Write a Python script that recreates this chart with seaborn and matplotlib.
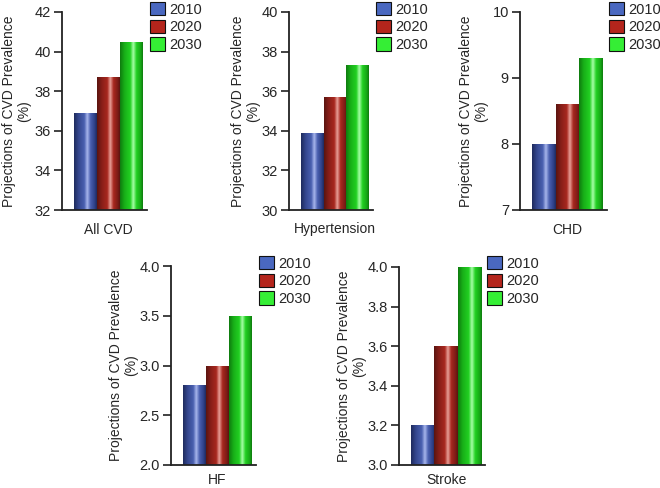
import numpy as np
import pandas as pd
import matplotlib
matplotlib.use("Agg")
import matplotlib.pyplot as plt
import seaborn as sns
from matplotlib.colors import LinearSegmentedColormap
from matplotlib.patches import Patch

# ---- data ----
years = ["2010", "2020", "2030"]
categories = ["All CVD", "Hypertension", "CHD", "HF", "Stroke"]
all_cvd = [36.9, 38.7, 40.5]
hypertension = [33.9, 35.7, 37.3]
chd = [8.0, 8.6, 9.3]
hf = [2.8, 3.0, 3.5]
stroke = [3.2, 3.6, 4.0]
values = [all_cvd, hypertension, chd, hf, stroke]
y_ranges = [(32, 42), (30, 40), (7, 10), (2.0, 4.0), (3.0, 4.0)]
y_ticks = [np.arange(32, 43, 2), np.arange(30, 41, 2), np.arange(7, 11, 1),
           np.arange(2.0, 4.01, 0.5), np.arange(3.0, 4.01, 0.2)]
tick_fmt = ["{:.0f}", "{:.0f}", "{:.0f}", "{:.1f}", "{:.1f}"]

sns.set_theme(style="ticks")
plt.rcParams["font.family"] = ["Liberation Sans", "DejaVu Sans"]

base = {"2010": "#4258a8", "2020": "#a8261e", "2030": "#22d022"}
legend_col = {"2010": "#4a68c0", "2020": "#b4251c", "2030": "#35ee35"}
grad = {
    "2010": ["#1e2a5c", "#34478e", "#4a60b0", "#a8b6ec", "#4a60b0", "#2e4088", "#1e2a5c"],
    "2020": ["#5a1410", "#861e18", "#a8281f", "#e8a098", "#a8281f", "#7e1c16", "#5a1410"],
    "2030": ["#0e7a0e", "#18b018", "#22d022", "#a8ffa8", "#22d022", "#16a816", "#0e7a0e"],
}
pos = [0.0, 0.2, 0.45, 0.58, 0.72, 0.9, 1.0]
cmaps = {k: LinearSegmentedColormap.from_list(k, list(zip(pos, v))) for k, v in grad.items()}

W, H = 660, 488
fig = plt.figure(figsize=(W / 100, H / 100), dpi=100)

# pixel boxes: left, right, top, bottom, legend anchor (x, y), ylabel offset px, xtick pad
boxes = [
    (62, 147, 12, 210, (150, 2), -31, 9),
    (289, 373, 12, 210, (376, 2), -29, 9),
    (520, 607, 12, 210, (609, 2), -32, 9),
    (171, 256, 266, 465, (259, 256), -33, 6),
    (399, 485, 267, 465, (487, 256), -33, 6),
]

for i, (cat, vals, yr, yt, fmt, box) in enumerate(zip(categories, values, y_ranges, y_ticks, tick_fmt, boxes)):
    l, r, t, b, lg, lbl_off, xpad = box
    ax = fig.add_axes([l / W, (H - b) / H, (r - l) / W, (b - t) / H])
    df = pd.DataFrame({"cat": [cat] * 3, "year": years, "val": vals})
    sns.barplot(data=df, x="cat", y="val", hue="year", palette=base, width=0.8,
                ax=ax, legend=False, saturation=1, edgecolor="none")
    ax.set_ylim(*yr)
    ax.set_xlim(-0.54, 0.447)
    gimg = np.linspace(0, 1, 256).reshape(1, -1)
    for patch, yname in zip(ax.patches, years):
        x0, y0 = patch.get_x(), patch.get_y()
        w, h = patch.get_width(), patch.get_height()
        im = ax.imshow(gimg, extent=[x0, x0 + w, yr[0], y0 + h], aspect="auto",
                       cmap=cmaps[yname], zorder=patch.get_zorder() + 0.1,
                       interpolation="bilinear")
        im.set_clip_path(patch)
    ax.set_ylim(*yr)
    ax.set_xlim(-0.54, 0.447)
    ax.set_yticks(yt)
    ax.set_yticklabels([fmt.format(v) for v in yt], fontsize=10.5)
    ax.set_xlabel("")
    ax.tick_params(axis="x", length=0, labelsize=10, pad=xpad)
    ax.tick_params(axis="y", length=6, width=1.2, color="#222222", pad=2)
    ax.set_ylabel("Projections of CVD Prevalence\n(%)", fontsize=10, linespacing=1.1)
    ax.yaxis.set_label_coords(lbl_off / (r - l), 0.5)
    for s in ["top", "right"]:
        ax.spines[s].set_visible(False)
    for s in ["left", "bottom"]:
        ax.spines[s].set_linewidth(1.3)
        ax.spines[s].set_color("#222222")
    handles = [Patch(facecolor=legend_col[y], edgecolor="#111111", linewidth=0.8) for y in years]
    fig.legend(handles, years, loc="upper left",
               bbox_to_anchor=(lg[0] / W, (H - lg[1]) / H), frameon=False,
               fontsize=10.5, handlelength=1.0, handleheight=1.0,
               labelspacing=0.22, handletextpad=0.35, borderpad=0.0, borderaxespad=0.0)

fig.savefig("out.png", dpi=100)
